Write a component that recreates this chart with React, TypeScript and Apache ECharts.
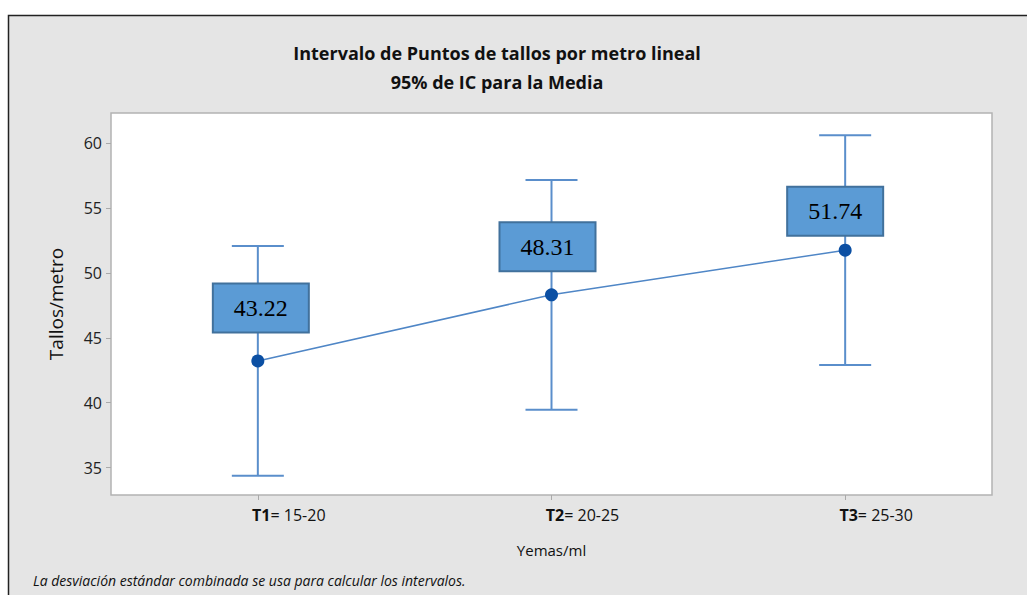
import React, { useEffect, useRef } from "react";
import * as echarts from "echarts";

const categories = ["T1= 15-20", "T2= 20-25", "T3= 25-30"];
const means = [43.22, 48.31, 51.74];
const lowerCI = [34.38, 39.47, 42.9];
const upperCI = [52.06, 57.15, 60.58];
const yTicks = [35, 40, 45, 50, 55, 60];

const titleLine1 = "Intervalo de Puntos de tallos por metro lineal";
const titleLine2 = "95% de IC para la Media";
const footnote = "La desviación estándar combinada se usa para calcular los intervalos.";
const yName = "Tallos/metro";
const xName = "Yemas/ml";

export default function App() {
  const ref = useRef<HTMLDivElement>(null);
  useEffect(() => {
    if (!ref.current) return;
    const chart = echarts.init(ref.current, null, { renderer: "svg" });
    const barColor = "#5a8ecb";
    const labelOffsets = [
      [3, -53],
      [-4, -48],
      [-10, -39],
    ];
    const option: any = {
      animation: false,
      backgroundColor: "#ffffff",
      textStyle: { fontFamily: "Open Sans" },
      graphic: [
        {
          type: "rect",
          z: -100,
          shape: { x: 8.5, y: 15.5, width: 1030, height: 600 },
          style: { fill: "#e5e5e5", stroke: "#222", lineWidth: 1.5 },
        },
        {
          type: "text",
          x: 497,
          y: 53,
          style: {
            text: titleLine1,
            fill: "#111",
            font: "bold 18px 'Open Sans'",
            align: "center",
            verticalAlign: "middle",
          },
        },
        {
          type: "text",
          x: 497,
          y: 82,
          style: {
            text: titleLine2,
            fill: "#111",
            font: "bold 18px 'Open Sans'",
            align: "center",
            verticalAlign: "middle",
          },
        },
        {
          type: "text",
          x: 33,
          y: 580,
          style: {
            text: footnote,
            fill: "#111",
            font: "italic 14px 'Open Sans'",
            align: "left",
            verticalAlign: "middle",
          },
        },
      ],
      grid: {
        left: 111,
        right: 35,
        top: 113,
        bottom: 100,
        show: true,
        backgroundColor: "#ffffff",
        borderColor: "#b3b3b3",
        borderWidth: 1.5,
      },
      xAxis: {
        type: "category",
        data: categories,
        boundaryGap: true,
        name: xName,
        nameLocation: "middle",
        nameGap: 47,
        nameTextStyle: { fontSize: 15, color: "#111", fontFamily: "Open Sans" },
        axisLine: { show: false },
        axisTick: { show: true, alignWithLabel: true, length: 5, lineStyle: { color: "#aaa" } },
        axisLabel: {
          margin: 12,
          align: "center",
          padding: [0, 0, 0, 62],
          formatter: (v: string) => {
            const idx = v.indexOf("=");
            return "{b|" + v.slice(0, idx) + "}{n|" + v.slice(idx) + "}";
          },
          rich: {
            b: { fontSize: 16, fontWeight: "bold", color: "#111", fontFamily: "Open Sans" },
            n: { fontSize: 16, color: "#111", fontFamily: "Open Sans" },
          },
        },
        splitLine: { show: false },
      },
      yAxis: {
        type: "value",
        min: 32.9,
        max: 62.3,
        name: yName,
        nameLocation: "middle",
        nameGap: 46,
        nameTextStyle: { fontSize: 19, color: "#111", fontFamily: "Open Sans" },
        axisLine: { show: false },
        axisTick: { show: true, length: 5, customValues: yTicks, lineStyle: { color: "#aaa" } },
        axisLabel: {
          customValues: yTicks,
          fontSize: 16,
          color: "#222",
          margin: 9,
          fontFamily: "Open Sans",
        },
        splitLine: { show: false },
      },
      series: [
        {
          type: "custom",
          data: categories.map((_, i) => [i, lowerCI[i], upperCI[i]]),
          encode: { x: 0, y: [1, 2] },
          z: 2,
          renderItem: (params: any, api: any) => {
            const x = api.value(0);
            const lo = api.coord([x, api.value(1)]);
            const hi = api.coord([x, api.value(2)]);
            const half = 26;
            const st = { stroke: barColor, lineWidth: 2 };
            return {
              type: "group",
              children: [
                { type: "line", shape: { x1: lo[0], y1: lo[1], x2: hi[0], y2: hi[1] }, style: st },
                { type: "line", shape: { x1: hi[0] - half, y1: hi[1], x2: hi[0] + half, y2: hi[1] }, style: st },
                { type: "line", shape: { x1: lo[0] - half, y1: lo[1], x2: lo[0] + half, y2: lo[1] }, style: st },
              ],
            };
          },
        },
        {
          type: "line",
          z: 3,
          data: means.map((m, i) => ({
            value: m,
            label: { offset: labelOffsets[i] },
          })),
          symbol: "circle",
          symbolSize: 13,
          itemStyle: { color: "#0b4fa3" },
          lineStyle: { color: "#4f86c6", width: 1.5 },
          label: {
            show: true,
            position: "inside",
            formatter: (p: any) => Number(p.value).toFixed(2),
            fontFamily: "Liberation Serif",
            fontSize: 24,
            color: "#000",
            backgroundColor: "#5b9bd5",
            borderColor: "#41719c",
            borderWidth: 2,
            width: 94,
            height: 47,
            lineHeight: 47,
            align: "center",
            verticalAlign: "middle",
            padding: 0,
          },
        },
      ],
    };
    chart.setOption(option);
    return () => chart.dispose();
  }, []);
  return (
    <div
      ref={ref}
      style={{ position: "absolute", left: 0, top: 0, width: 1027, height: 595 }}
    />
  );
}
